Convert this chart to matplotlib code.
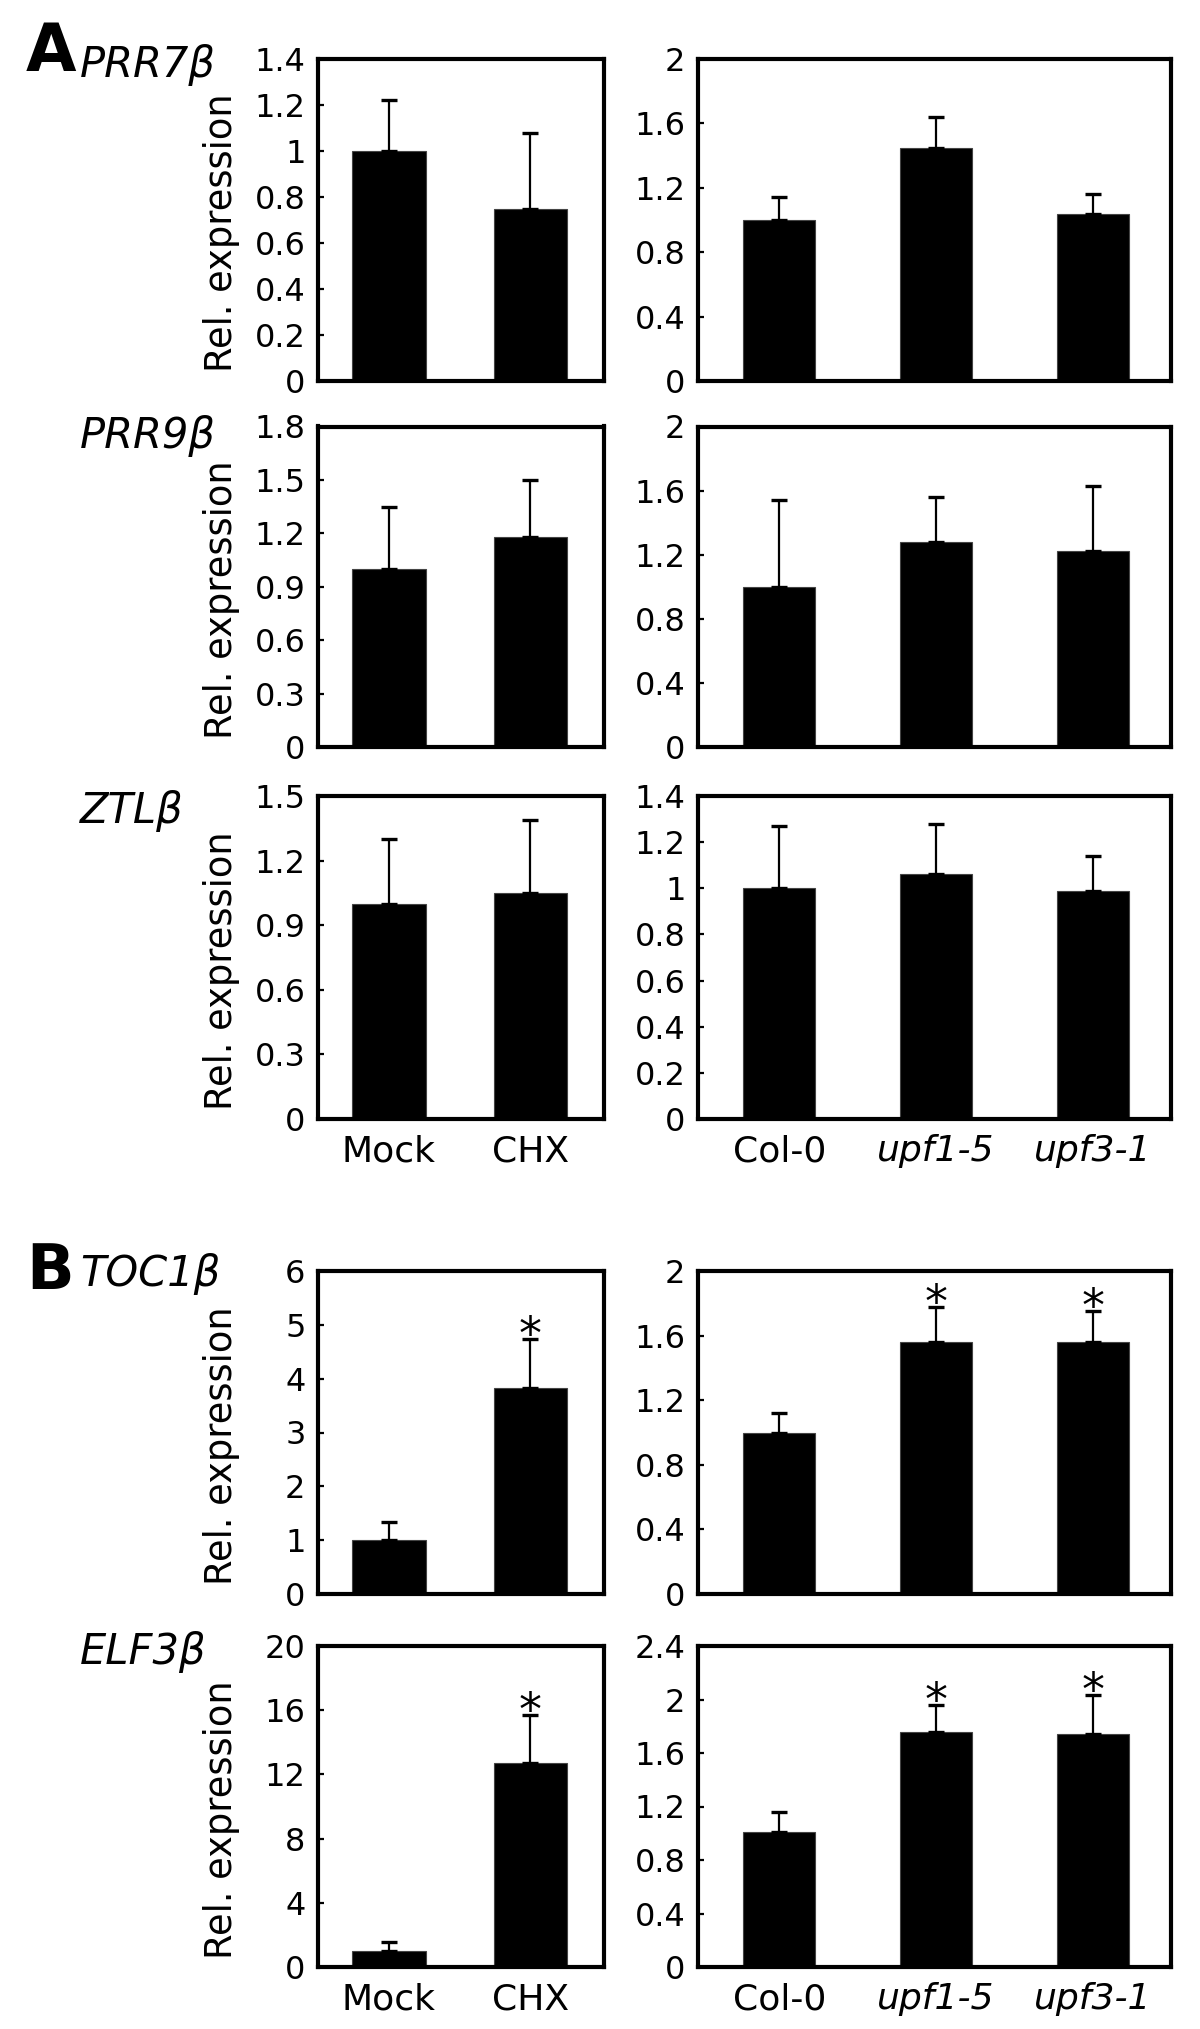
import matplotlib
matplotlib.use('Agg')
import matplotlib.pyplot as plt
import numpy as np

plt.rcParams['font.family'] = ['DejaVu Sans']

W, H = 1200, 2029

# ---------------- data ----------------
treat_labels = ['Mock', 'CHX']
geno_labels = ['Col-0', 'upf1-5', 'upf3-1']
geno_italic = [False, True, True]
genes = ['PRR7β', 'PRR9β', 'ZTLβ', 'TOC1β', 'ELF3β']
panel_letters = ['A', None, None, 'B', None]

prr7_treat = [1.00, 0.75]
prr7_treat_sd = [0.22, 0.33]
prr7_geno = [1.00, 1.45, 1.04]
prr7_geno_sd = [0.14, 0.19, 0.12]

prr9_treat = [1.00, 1.18]
prr9_treat_sd = [0.35, 0.32]
prr9_geno = [1.00, 1.28, 1.22]
prr9_geno_sd = [0.54, 0.28, 0.41]

ztl_treat = [1.00, 1.05]
ztl_treat_sd = [0.30, 0.34]
ztl_geno = [1.00, 1.06, 0.99]
ztl_geno_sd = [0.27, 0.22, 0.15]

toc1_treat = [1.00, 3.82]
toc1_treat_sd = [0.33, 0.91]
toc1_geno = [1.00, 1.56, 1.56]
toc1_geno_sd = [0.12, 0.22, 0.19]

elf3_treat = [1.00, 12.7]
elf3_treat_sd = [0.53, 3.0]
elf3_geno = [1.01, 1.76, 1.74]
elf3_geno_sd = [0.15, 0.20, 0.29]

treat_sig = [[False, False], [False, False], [False, False],
             [False, True], [False, True]]
geno_sig = [[False, False, False], [False, False, False], [False, False, False],
            [False, True, True], [False, True, True]]

treat_ymax = [1.4, 1.8, 1.5, 6, 20]
treat_ystep = [0.2, 0.3, 0.3, 1, 4]
geno_ymax = [2.0, 2.0, 1.4, 2.0, 2.4]
geno_ystep = [0.4, 0.4, 0.2, 0.4, 0.4]

treat_means = [prr7_treat, prr9_treat, ztl_treat, toc1_treat, elf3_treat]
treat_sds = [prr7_treat_sd, prr9_treat_sd, ztl_treat_sd, toc1_treat_sd, elf3_treat_sd]
geno_means = [prr7_geno, prr9_geno, ztl_geno, toc1_geno, elf3_geno]
geno_sds = [prr7_geno_sd, prr9_geno_sd, ztl_geno_sd, toc1_geno_sd, elf3_geno_sd]

# ---------------- layout (pixels) ----------------
row_top = [59, 426.5, 796, 1271, 1646]
row_bot = [381, 747, 1119, 1594, 1967]
label_base = [77, 448, 823, 1286, 1664]
show_xlabels = [False, False, True, False, True]
letter_size = {'A': 47, 'B': 45}
letter_base = {'A': 71, 'B': 1289}
left_x0, left_x1 = 318, 604
right_x0, right_x1 = 698, 1171

fig = plt.figure(figsize=(W / 100, H / 100), dpi=100)


def fmt(v):
    s = ('%.1f' % v)
    if s.endswith('.0'):
        s = s[:-2]
    return s


def style_axes(ax, ymax, ystep):
    ax.set_ylim(0, ymax)
    ticks = np.arange(0, ymax + ystep / 2, ystep)
    ax.set_yticks(ticks)
    ax.set_yticklabels([fmt(t) for t in ticks])
    for sp in ax.spines.values():
        sp.set_linewidth(3)
        sp.set_color('black')
    ax.tick_params(axis='y', direction='in', length=4, width=1.6,
                   labelsize=23, pad=9)
    ax.tick_params(axis='x', length=0, labelsize=26, pad=11)
    ax.tick_params(right=False, top=False)


def draw(ax, means, sds, sig, xlim, width):
    x = np.arange(len(means))
    ax.bar(x, means, width=width, color='black', edgecolor='#444444',
           linewidth=0.8, zorder=2)
    ax.errorbar(x, means, yerr=[np.zeros(len(sds)), sds], fmt='none',
                ecolor='black', elinewidth=1.6, capsize=5.5, capthick=2.4,
                zorder=3)
    for xi, m, s, g in zip(x, means, sds, sig):
        if g:
            ax.annotate('*', xy=(xi, m + s), xytext=(0, -10),
                        textcoords='offset pixels', ha='center',
                        va='baseline', fontsize=33, zorder=4)
    ax.set_xlim(*xlim)
    ax.set_xticks(x)


for i in range(5):
    top, bot = row_top[i], row_bot[i]
    hfrac = (bot - top) / H
    yb = 1 - bot / H
    axL = fig.add_axes([left_x0 / W, yb, (left_x1 - left_x0) / W, hfrac])
    axR = fig.add_axes([right_x0 / W, yb, (right_x1 - right_x0) / W, hfrac])

    draw(axL, treat_means[i], treat_sds[i], treat_sig[i], (-0.5, 1.52), 0.52)
    draw(axR, geno_means[i], geno_sds[i], geno_sig[i], (-0.52, 2.5), 0.46)
    style_axes(axL, treat_ymax[i], treat_ystep[i])
    style_axes(axR, geno_ymax[i], geno_ystep[i])

    if show_xlabels[i]:
        axL.set_xticklabels(treat_labels)
        axR.set_xticklabels(geno_labels)
        for lab, it in zip(axR.get_xticklabels(), geno_italic):
            if it:
                lab.set_style('italic')
    else:
        axL.set_xticklabels([])
        axR.set_xticklabels([])

    axL.text(-0.338, 0.46, 'Rel. expression', transform=axL.transAxes,
             rotation=90, ha='center', va='center', fontsize=26.5)

    fig.text(80 / W, 1 - label_base[i] / H, genes[i], ha='left',
             va='baseline', style='italic', fontsize=30)
    let = panel_letters[i]
    if let:
        fig.text(26 / W, 1 - letter_base[let] / H, let, ha='left',
                 va='baseline', fontweight='bold', fontsize=letter_size[let])

fig.savefig('out.png', dpi=100)
